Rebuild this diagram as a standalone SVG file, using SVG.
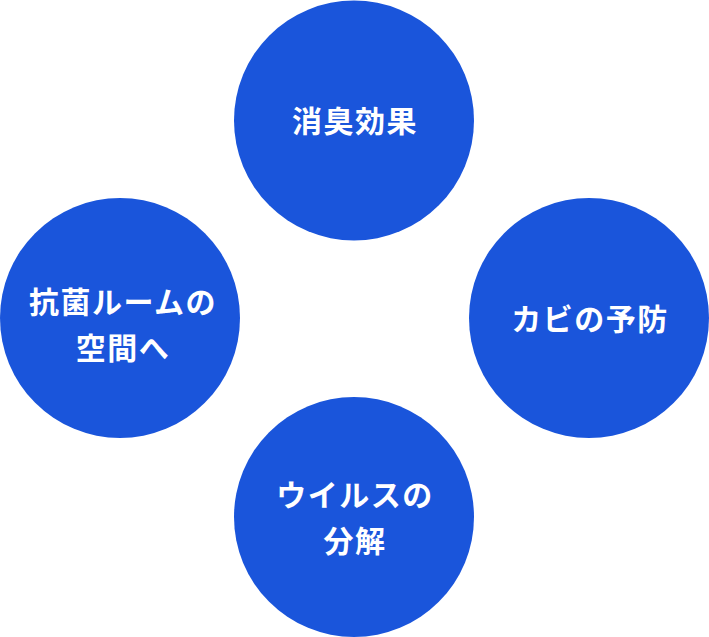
<svg xmlns="http://www.w3.org/2000/svg" width="709" height="637" viewBox="0 0 709 637">
<style>
.c{fill:#1A55DB}
.t{fill:#fff;font-family:"Noto Sans CJK JP","Noto Sans CJK SC",sans-serif;font-size:30px;font-weight:700;letter-spacing:1.5px;text-anchor:middle}
</style>
<rect width="709" height="637" fill="#fff"/>
<g id="connectors"></g>
<g id="node-top"><circle class="c" cx="354" cy="120.5" r="120"/><text class="t" x="355" y="131.5">消臭効果</text></g>
<g id="node-left"><circle class="c" cx="120" cy="318" r="120"/><text class="t" x="123" y="313">抗菌ルームの</text><text class="t" x="123" y="359">空間へ</text></g>
<g id="node-right"><circle class="c" cx="589" cy="318" r="120"/><text class="t" x="590" y="329.5">カビの予防</text></g>
<g id="node-bottom"><circle class="c" cx="354" cy="517" r="120"/><text class="t" x="355" y="506">ウイルスの</text><text class="t" x="355" y="551.5">分解</text></g>
</svg>
